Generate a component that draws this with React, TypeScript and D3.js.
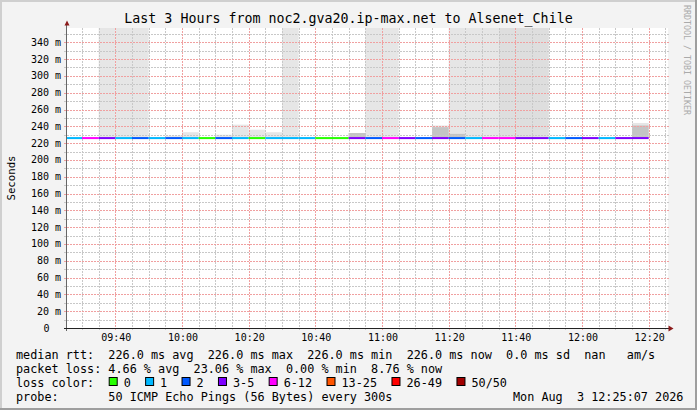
import React from 'react';
import * as d3 from 'd3';

// 5-minute bins, start time of each
const binTimes = [
  '09:25', '09:30', '09:35', '09:40', '09:45', '09:50', '09:55',
  '10:00', '10:05', '10:10', '10:15', '10:20', '10:25', '10:30',
  '10:35', '10:40', '10:45', '10:50', '10:55', '11:00', '11:05',
  '11:10', '11:15', '11:20', '11:25', '11:30', '11:35', '11:40',
  '11:45', '11:50', '11:55', '12:00', '12:05', '12:10', '12:15',
];

// median rtt per bin, ms
const medianRtt = [
  226, 226, 226, 226, 226, 226, 226, 226, 226, 226, 226, 226, 226, 226,
  226, 226, 226, 226, 226, 226, 226, 226, 226, 226, 226, 226, 226, 226,
  226, 226, 226, 226, 226, 226, 226,
];

// lost pings out of 50 per bin
const lostPings = [
  1, 6, 4, 1, 2, 1, 2, 1, 0, 2, 1, 0, 1, 1,
  1, 0, 0, 3, 2, 11.53, 4, 2, 3, 2, 1, 6, 6, 4,
  3, 1, 2, 3, 1, 3, 4.38,
];

// smoke tops, ms (outer light layer, middle layer, inner dark layer)
const smokeOuter = [
  226, 226, 420, 420, 420, 226, 229, 233, 226, 230, 242, 236, 233, 420,
  226, 226, 226, 232, 420, 420, 226, 226, 241, 420, 420, 420, 420, 420,
  420, 226, 226, 226, 226, 226, 244,
];
const smokeMid = [
  226, 226, 226, 226, 226, 226, 226, 226, 226, 226, 226, 226, 226, 226,
  226, 226, 226, 226, 226, 226, 226, 226, 226, 226, 226, 226, 420, 420,
  420, 226, 226, 226, 226, 226, 226,
];
const smokeInner = [
  226, 226, 226, 226, 226, 226, 226, 226, 226, 226, 226, 226, 226, 226,
  226, 226, 226, 232, 226, 226, 226, 226, 239, 231, 226, 226, 226, 226,
  226, 226, 226, 226, 226, 226, 241,
];

const lossThresholds = [1, 2, 3, 6, 13, 26, 50];
const lossLabels = ['0', '1', '2', '3-5', '6-12', '13-25', '26-49', '50/50'];
const lossColors = ['#26ff00', '#00b8ff', '#0059ff', '#7e00ff', '#ff00ff', '#ff5500', '#ff0000', '#a10000'];

const yTickValues = [0, 20, 40, 60, 80, 100, 120, 140, 160, 180, 200, 220, 240, 260, 280, 300, 320, 340];

const legendRows = [
  'median rtt:  226.0 ms avg  226.0 ms max  226.0 ms min  226.0 ms now  0.0 ms sd  nan   am/s',
  'packet loss: 4.66 % avg  23.06 % max  0.00 % min  8.76 % now',
];
const probeText = 'probe:       50 ICMP Echo Pings (56 Bytes) every 300s';
const dateText = 'Mon Aug  3 12:25:07 2026';
const title = 'Last 3 Hours from noc2.gva20.ip-max.net to Alsenet_Chile';

const W = 697;
const H = 410;
const plot = { left: 67, top: 28, right: 667, bottom: 328 };
const MONO = '"DejaVu Sans Mono", monospace';
const CW = 7.1; // legend char advance

const day = (hm: string, s = 0) => {
  const [h, m] = hm.split(':').map(Number);
  return new Date(2026, 7, 3, h, m, s);
};

export default function App() {
  const x = d3.scaleTime()
    .domain([day('09:25', 30), day('12:25', 30)])
    .range([plot.left, plot.right]);
  const y = d3.scaleLinear().domain([0, 357]).range([plot.bottom, plot.top]);
  const lossColor = d3.scaleThreshold<number, string>().domain(lossThresholds).range(lossColors);

  const minorX = x.ticks(d3.timeMinute.every(5)!);
  const majorX = x.ticks(d3.timeMinute.every(20)!);
  const minorY = d3.range(10, 357, 10);
  const fmt = d3.timeFormat('%H:%M');
  const cy = (v: number) => Math.min(Math.max(y(v), plot.top), plot.bottom);

  const bins = binTimes.map((t, i) => {
    const t0 = day(t);
    const t1 = d3.timeMinute.offset(t0, 5);
    const x0 = Math.max(x(t0), plot.left);
    const x1 = Math.min(x(t1), plot.right);
    return { i, x0, x1, w: x1 - x0 };
  });

  const smokeLayers: [number[], string][] = [
    [smokeOuter, '#e6e6e6'],
    [smokeMid, '#dedede'],
    [smokeInner, '#c4c4c4'],
  ];

  // loss legend box positions
  let bx = 108.7;
  const boxes = lossLabels.map((lab, i) => {
    const b = { x: bx, label: lab, color: lossColors[i] };
    bx = bx + 15 + (lab.length + 2) * 7.14;
    return b;
  });

  return (
    <div style={{ position: 'absolute', left: 0, top: 0 }}>
      <svg width={W} height={H} style={{ display: 'block' }} fontFamily={MONO}>
        <rect x={0} y={0} width={W} height={H} fill="#f3f3f3" />
        {/* 3d frame */}
        <rect x={0} y={0} width={W} height={2} fill="#cfcfcf" />
        <rect x={0} y={0} width={2} height={H} fill="#cfcfcf" />
        <rect x={0} y={H - 2} width={W} height={2} fill="#9e9e9e" />
        <rect x={W - 2} y={0} width={2} height={H} fill="#9e9e9e" />

        <text x={348.5} y={23} fontSize={13.3} textAnchor="middle" fill="#000" style={{ whiteSpace: 'pre' }}>{title}</text>

        <text transform="translate(684,5) rotate(90)" fontSize={8.3} fill="#aaaaaa" style={{ whiteSpace: 'pre' }}>
          RRDTOOL / TOBI OETIKER
        </text>

        <text transform="translate(15,178) rotate(-90)" fontSize={10.7} textAnchor="middle" fill="#000">Seconds</text>

        {/* canvas */}
        <rect x={plot.left} y={plot.top} width={plot.right - plot.left + 1} height={plot.bottom - plot.top} fill="#ffffff" />

        {/* smoke */}
        {smokeLayers.map(([arr, col], li) => (
          <g key={li}>
            {bins.map(b => {
              const top = cy(arr[b.i]);
              const base = y(medianRtt[b.i]);
              if (top >= base - 0.5) return null;
              return <rect key={b.i} x={b.x0} y={top} width={b.w} height={base - top} fill={col} />;
            })}
          </g>
        ))}

        {/* grid */}
        {minorY.filter(v => v % 20 !== 0).map(v => (
          <line key={'my' + v} x1={64} x2={669} y1={Math.round(y(v)) + 0.5} y2={Math.round(y(v)) + 0.5}
            stroke="#c8c8c8" strokeDasharray="2,1" />
        ))}
        {minorX.filter(t => t.getMinutes() % 20 !== 0).map(t => (
          <line key={'mx' + +t} y1={plot.top} y2={331} x1={Math.round(x(t)) + 0.5} x2={Math.round(x(t)) + 0.5}
            stroke="#c8c8c8" strokeDasharray="2,1" />
        ))}
        {yTickValues.filter(v => v > 0).map(v => (
          <line key={'My' + v} x1={64} x2={669} y1={Math.round(y(v)) + 0.5} y2={Math.round(y(v)) + 0.5}
            stroke="#f0a0a0" strokeDasharray="2,1" />
        ))}
        {majorX.map(t => (
          <line key={'Mx' + +t} y1={plot.top} y2={331} x1={Math.round(x(t)) + 0.5} x2={Math.round(x(t)) + 0.5}
            stroke="#f0a0a0" strokeDasharray="2,1" />
        ))}

        {/* median line coloured by loss */}
        {bins.map(b => (
          <rect key={'med' + b.i} x={b.x0} y={y(medianRtt[b.i]) - 1} width={b.w} height={2}
            fill={lossColor(lostPings[b.i])} />
        ))}

        {/* axes */}
        <line x1={66.5} x2={66.5} y1={24} y2={331} stroke="#666" />
        <line x1={64} x2={669} y1={328.5} y2={328.5} stroke="#222" />
        <path d="M64.5,25.5 L69.5,25.5 L67,20.5 Z" fill="#8b1a1a" />
        <path d="M668.5,325.5 L668.5,331.5 L673.5,328.5 Z" fill="#8b1a1a" />

        {yTickValues.map(v => (
          <text key={'yl' + v} x={v === 0 ? 49.5 : 61} y={y(v) + 3.5} fontSize={10} textAnchor="end" fill="#000">
            {v === 0 ? '0' : `${v} m`}
          </text>
        ))}
        {majorX.map(t => (
          <text key={'xl' + +t} x={x(t) + 1} y={341} fontSize={10} textAnchor="middle" fill="#000">{fmt(t)}</text>
        ))}

        {/* legend */}
        {legendRows.map((row, i) => (
          <text key={'lg' + i} x={16} y={358.7 + i * 14.1} fontSize={11.8} fill="#000" style={{ whiteSpace: 'pre' }}>{row}</text>
        ))}
        <text x={16} y={386.9} fontSize={11.8} fill="#000" style={{ whiteSpace: 'pre' }}>loss color:</text>
        {boxes.map(b => (
          <g key={'bx' + b.label}>
            <rect x={b.x + 0.5} y={377.5} width={8} height={8} fill={b.color} stroke="#000" />
            <text x={b.x + 15} y={386.9} fontSize={11.8} fill="#000" style={{ whiteSpace: 'pre' }}>{b.label}</text>
          </g>
        ))}
        <text x={16} y={401} fontSize={11.8} fill="#000" style={{ whiteSpace: 'pre' }}>{probeText}</text>
        <text x={16 + 70 * CW} y={401} fontSize={11.8} fill="#000" style={{ whiteSpace: 'pre' }}>{dateText}</text>
      </svg>
    </div>
  );
}
